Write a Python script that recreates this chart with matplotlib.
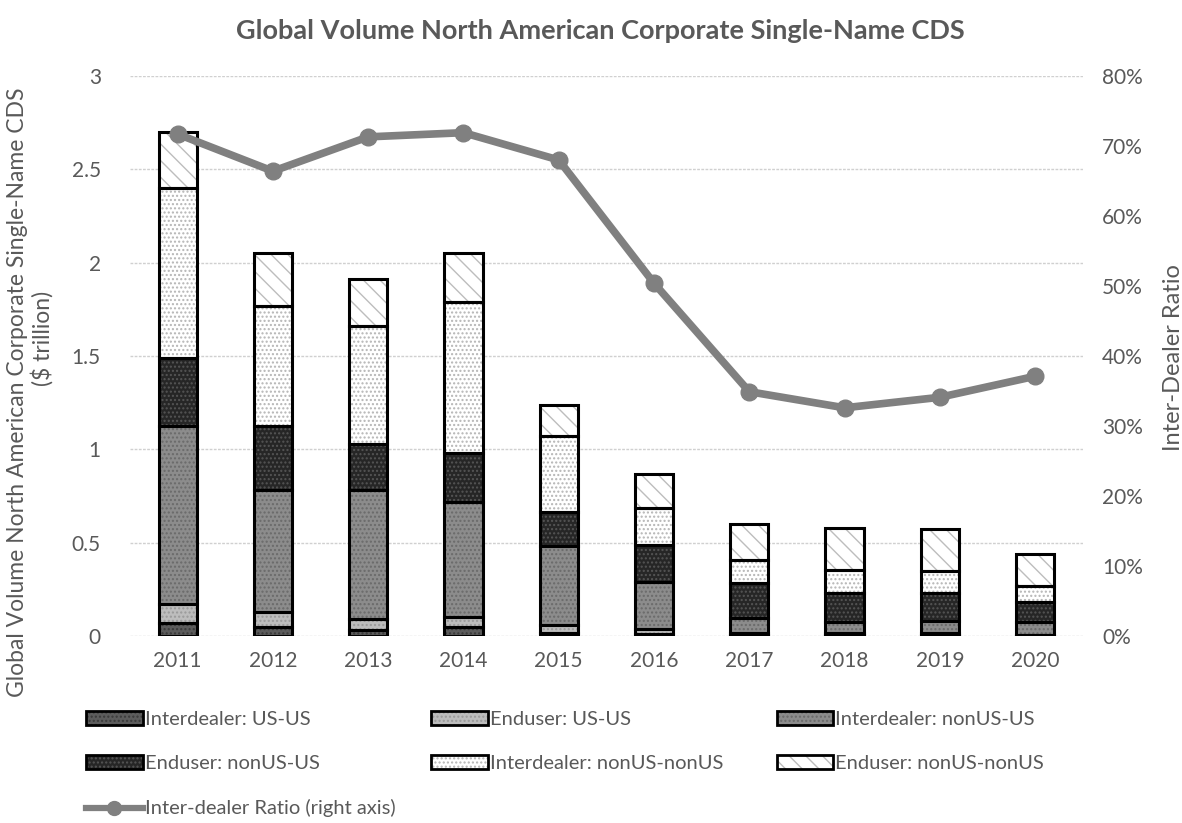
import matplotlib
matplotlib.use("Agg")
import matplotlib.pyplot as plt
from matplotlib.patches import Patch
from matplotlib.lines import Line2D
from matplotlib.legend_handler import HandlerTuple
from matplotlib.ticker import PercentFormatter
import numpy as np

plt.rcParams['font.family'] = ['Lato', 'DejaVu Sans']

years = ["2011", "2012", "2013", "2014", "2015", "2016", "2017", "2018", "2019", "2020"]

# $ trillion (bottom to top)
interdealer_us_us = [0.07, 0.05, 0.03, 0.05, 0.015, 0.01, 0.005, 0.005, 0.005, 0.003]
enduser_us_us = [0.10, 0.08, 0.06, 0.05, 0.045, 0.03, 0.013, 0.010, 0.010, 0.002]
interdealer_nonus_us = [0.955, 0.65, 0.69, 0.62, 0.42, 0.25, 0.08, 0.062, 0.065, 0.072]
enduser_nonus_us = [0.365, 0.345, 0.25, 0.26, 0.185, 0.20, 0.185, 0.153, 0.15, 0.103]
interdealer_nonus_nonus = [0.91, 0.645, 0.63, 0.81, 0.405, 0.195, 0.125, 0.125, 0.12, 0.09]
enduser_nonus_nonus = [0.30, 0.28, 0.25, 0.26, 0.165, 0.185, 0.19, 0.225, 0.225, 0.17]

# right axis
interdealer_ratio = [0.717, 0.664, 0.713, 0.719, 0.680, 0.504, 0.349, 0.326, 0.341, 0.371]

series = [
    ("Interdealer: US-US", interdealer_us_us, "#5c5c5c", "....", "#3a3a3a"),
    ("Enduser: US-US", enduser_us_us, "#bdbdbd", "....", "#9a9a9a"),
    ("Interdealer: nonUS-US", interdealer_nonus_us, "#8c8c8c", "....", "#6a6a6a"),
    ("Enduser: nonUS-US", enduser_nonus_us, "#262626", "....", "#555555"),
    ("Interdealer: nonUS-nonUS", interdealer_nonus_nonus, "#ffffff", "....", "#b5b5b5"),
    ("Enduser: nonUS-nonUS", enduser_nonus_nonus, "#ffffff", "\\\\", "#bdbdbd"),
]

grey_text = "#595959"

fig = plt.figure(figsize=(11.82, 8.23), dpi=100)
ax = fig.add_axes([0.110, 0.2272, 0.806, 0.6805])

x = np.arange(len(years))
width = 0.4
bottom = np.zeros(len(years))
handles = []
for name, vals, fc, hatch, hc in series:
    vals = np.array(vals)
    ax.bar(x, vals, width, bottom=bottom, color=fc, edgecolor="none", zorder=2)
    ax.bar(x, vals, width, bottom=bottom, color="none", hatch=hatch,
           edgecolor=hc, linewidth=0, zorder=3)
    ax.bar(x, vals, width, bottom=bottom, color="none", edgecolor="black",
           linewidth=2.2, zorder=4)
    bottom += vals
    handles.append((Patch(facecolor=fc, edgecolor="none"),
                    Patch(facecolor="none", edgecolor=hc, hatch=hatch, linewidth=0),
                    Patch(facecolor="none", edgecolor="black", linewidth=2)))

ax.set_xlim(-0.5, len(years) - 0.5)
ax.set_ylim(0, 3)
ax.set_yticks(np.arange(0, 3.01, 0.5))
ax.set_yticklabels(["0", "0.5", "1", "1.5", "2", "2.5", "3"])
ax.set_xticks(x)
ax.set_xticklabels(years)
ax.tick_params(length=0, labelsize=15, colors=grey_text, pad=11)
ax.tick_params(axis="y", pad=21)
ax.grid(axis="y", color="#d0d0d0", linewidth=1, linestyle=(0, (2, 1)), zorder=0)
ax.set_axisbelow(True)
for s in ax.spines.values():
    s.set_visible(False)

# two-line left axis title, placed as in the reference
fig.text(0.0145, 1 - 392 / 823, "Global Volume North American Corporate Single-Name CDS",
         rotation=90, ha="center", va="center", fontsize=16.5, color=grey_text)
fig.text(0.0355, 1 - 338 / 823, "($ trillion)",
         rotation=90, ha="center", va="center", fontsize=16.5, color=grey_text)

ax2 = ax.twinx()
ax2.plot(x, interdealer_ratio, color="#808080", linewidth=5.5, marker="o",
         markersize=12, zorder=5)
ax2.set_ylim(0, 0.8)
ax2.set_yticks(np.arange(0, 0.81, 0.1))
ax2.yaxis.set_major_formatter(PercentFormatter(1.0, decimals=0))
ax2.tick_params(length=0, labelsize=15, colors=grey_text, pad=14)
for s in ax2.spines.values():
    s.set_visible(False)
fig.text(0.9925, 1 - 358 / 823, "Inter-Dealer Ratio", rotation=90,
         ha="center", va="center", fontsize=17, color=grey_text)

fig.text(0.508, 0.962, "Global Volume North American Corporate Single-Name CDS",
         ha="center", va="center", fontsize=19.5, fontweight="bold", color=grey_text)

line_handle = Line2D([], [], color="#808080", linewidth=4.5, marker="o", markersize=10)
leg_kw = dict(frameon=False, fontsize=14.5, handlelength=2.8, handleheight=0.65,
              handletextpad=0.1, labelspacing=1.35, borderaxespad=0,
              borderpad=0, labelcolor=grey_text,
              handler_map={tuple: HandlerTuple(ndivide=1, pad=0)})
labels = [s[0] for s in series]
cols = [
    ([handles[0], handles[3], line_handle],
     [labels[0], labels[3], "Inter-dealer Ratio (right axis)"], 0.073),
    ([handles[1], handles[4]], [labels[1], labels[4]], 0.365),
    ([handles[2], handles[5]], [labels[2], labels[5]], 0.657),
]
for hs, ls, xpos in cols:
    fig.legend(hs, ls, loc="upper left", bbox_to_anchor=(xpos, 1 - 711 / 823), **leg_kw)

fig.savefig("out.png", dpi=100)
